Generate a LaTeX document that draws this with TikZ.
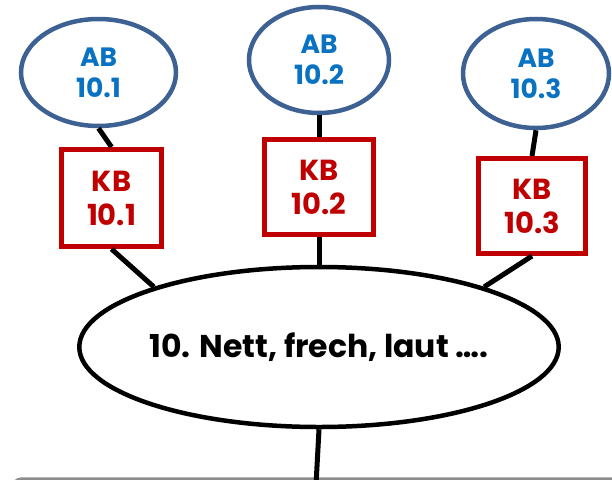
\documentclass[tikz,border=0pt]{standalone}
\usepackage{fontspec}
\setmainfont{Poppins}
\usetikzlibrary{shapes.geometric}
\definecolor{abline}{HTML}{3D6193}
\definecolor{abtext}{HTML}{0A72C2}
\definecolor{kbred}{HTML}{C00000}
\tikzset{
  abnode/.style={ellipse, draw=abline, line width=4.5pt, fill=white, inner sep=0pt,
    align=center, text=abtext, font=\bfseries\fontsize{26.5}{31}\selectfont},
  kbnode/.style={rectangle, draw=kbred, line width=5pt, fill=white, inner sep=0pt,
    align=center, text=kbred, font=\bfseries\fontsize{29}{34}\selectfont},
  mainnode/.style={ellipse, draw=black, line width=4.5pt, fill=white, inner sep=0pt,
    font=\bfseries\fontsize{31.5}{36}\selectfont},
  link/.style={draw=black, line width=5pt},
}
\begin{document}
\begin{tikzpicture}[x=1pt,y=-1pt]
  \useasboundingbox (0,0) rectangle (612,479);
  \clip (0,0) rectangle (612,479);
  % frame edge along the bottom
  \draw[line width=2.5pt, draw=gray!90, rounded corners=10pt] (12,510) -- (12,478.5) -- (640,478.5);
  % central topic
  \node[mainnode, minimum width=468pt, minimum height=160pt] (main) at (319,347) {10. Nett, frech, laut \dots.};
  % boxes
  \node[kbnode, minimum width=100pt, minimum height=97pt] (kb1) at (111.5,198) {KB\\10.1};
  \node[kbnode, minimum width=109pt, minimum height=95pt] (kb2) at (319,187) {KB\\10.2};
  \node[kbnode, minimum width=107pt, minimum height=95pt] (kb3) at (532,206) {KB\\10.3};
  % ellipses on top
  \node[abnode, minimum width=155pt, minimum height=107pt] (ab1) at (98.5,72.5) {AB\\10.1};
  \node[abnode, minimum width=140pt, minimum height=106pt] (ab2) at (319,60) {AB\\10.2};
  \node[abnode, minimum width=146pt, minimum height=109pt] (ab3) at (536,73.5) {AB\\10.3};
  \coordinate (tail) at (316,485);
  % connectors
  \draw[link] (ab1.south) -- (kb1.north);
  \draw[link] (ab2.south) -- (kb2.north);
  \draw[link] (ab3.south) -- (kb3.north);
  \draw[link] (kb1.south) -- (main.160);
  \draw[link] (kb2.south) -- (main.north);
  \draw[link] (kb3.south) -- (main.20);
  \draw[link] (main.south) -- (tail);
\end{tikzpicture}
\end{document}
